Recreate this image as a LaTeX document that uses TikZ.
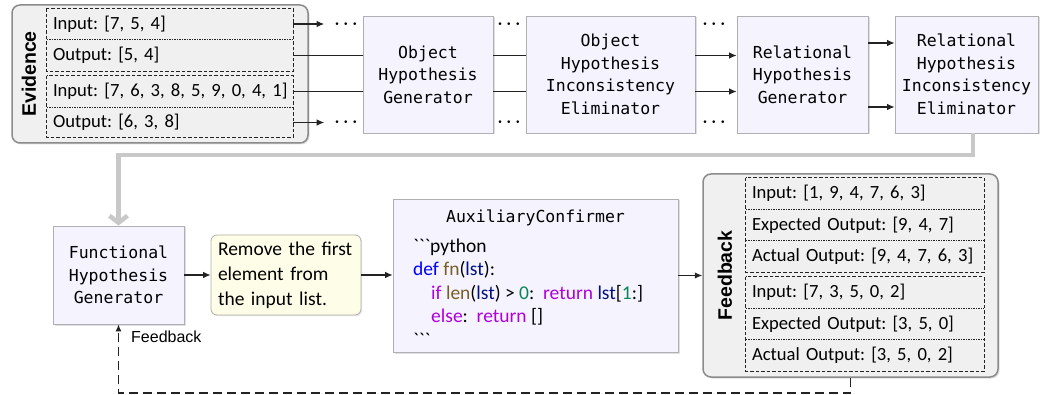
\documentclass[tikz,border=0pt]{standalone}
\usepackage{fontspec}
\setmainfont{Carlito}
\newfontfamily\monof{DejaVu Sans Mono}
\newfontfamily\arialf{Liberation Sans}
\usetikzlibrary{arrows.meta,shadows}
\AtBeginDocument{\frenchspacing}
\definecolor{procfill}{RGB}{244,243,254}
\definecolor{procdraw}{RGB}{175,175,180}
\definecolor{panelfill}{RGB}{240,240,240}
\definecolor{paneldraw}{RGB}{140,140,140}
\definecolor{yelfill}{RGB}{254,253,232}
\definecolor{yeldraw}{RGB}{175,175,165}
\definecolor{linec}{RGB}{35,35,35}
\definecolor{grayarr}{RGB}{200,200,200}
\definecolor{cdef}{RGB}{0,0,255}
\definecolor{cfn}{RGB}{121,94,38}
\definecolor{cvar}{RGB}{0,16,128}
\definecolor{cctrl}{RGB}{175,0,219}
\definecolor{cnum}{RGB}{9,134,88}
\tikzset{
 proc/.style={draw=procdraw, fill=procfill, line width=0.8pt, align=center,
   font=\monof\fontsize{16.5}{22.5}\selectfont, inner sep=0pt,
   drop shadow={shadow xshift=1.5pt,shadow yshift=-1.5pt,opacity=0.25}},
 panel/.style={draw=paneldraw, fill=panelfill, line width=1.5pt, rounded corners=8pt,
   drop shadow={shadow xshift=1.5pt,shadow yshift=-1.5pt,opacity=0.25}},
 yel/.style={draw=yeldraw, fill=yelfill, line width=0.8pt, rounded corners=6pt, align=left,
   inner xsep=7pt, inner ysep=0pt, font=\fontsize{19.5}{25}\selectfont,
   drop shadow={shadow xshift=1.2pt,shadow yshift=-1.2pt,opacity=0.2}},
 row/.style={inner xsep=6pt, inner ysep=0pt, align=left, minimum height=31pt,
   font=\fontsize{18.6}{23}\selectfont},
 grp/.style={draw=linec, line width=0.8pt, dash pattern=on 3.5pt off 2pt},
 sep/.style={draw=linec, line width=0.8pt, dash pattern=on 1.5pt off 1pt},
 conn/.style={draw=linec, line width=1.1pt},
 arr/.style={conn, -{Latex[length=7.5pt,width=6.5pt]}},
 dotsn/.style={inner xsep=10pt, inner ysep=0pt, font=\fontsize{19}{19}\selectfont\boldmath, anchor=base},
 sidelabel/.style={rotate=90, font=\arialf\bfseries\fontsize{19.5}{20}\selectfont},
 codeline/.style={anchor=base west, inner sep=0pt, font=\fontsize{19.5}{23}\selectfont},
}
\begin{document}
\begin{tikzpicture}[x=1pt,y=-1pt]
\useasboundingbox (0,0) rectangle (1043,395);
% panels
\node[panel, minimum width=296pt, minimum height=138pt] (ev) at (160,74) {};
\node[panel, minimum width=295pt, minimum height=203pt] (fb) at (850.5,275.5) {};
\node[sidelabel] (evl) at (29,74) {Evidence};
\node[sidelabel] (fbl) at (725,275.5) {Feedback};
% evidence rows
\node[row, text width=234pt] (r1) at (170,24) {\mbox{Input: [7, 5, 4]}};
\node[row, text width=234pt] (r2) at (170,55.5) {\mbox{Output: [5, 4]}};
\node[row, text width=234pt] (r3) at (170,91.5) {\mbox{Input: [7, 6, 3, 8, 5, 9, 0, 4, 1]}};
\node[row, text width=234pt, minimum height=30pt] (r4) at (170,122.5) {\mbox{Output: [6, 3, 8]}};
\draw[sep] (r1.south west) -- (r1.south east);
\draw[sep] (r3.south west) -- (r3.south east);
\draw[grp] (r1.north west) rectangle (r2.south east);
\draw[grp] (r3.north west) rectangle (r4.south east);
% feedback rows
\node[row, text width=226pt] (f1) at (865,193.5) {\mbox{Input: [1, 9, 4, 7, 6, 3]}};
\node[row, text width=226pt] (f2) at (865,225) {\mbox{Expected Output: [9, 4, 7]}};
\node[row, text width=226pt] (f3) at (865,256.5) {\mbox{Actual Output: [9, 4, 7, 6, 3]}};
\node[row, text width=226pt] (f4) at (865,292.5) {\mbox{Input: [7, 3, 5, 0, 2]}};
\node[row, text width=226pt] (f5) at (865,324) {\mbox{Expected Output: [3, 5, 0]}};
\node[row, text width=226pt] (f6) at (865,355.5) {\mbox{Actual Output: [3, 5, 0, 2]}};
\draw[sep] (f1.south west) -- (f1.south east);
\draw[sep] (f2.south west) -- (f2.south east);
\draw[sep] (f4.south west) -- (f4.south east);
\draw[sep] (f5.south west) -- (f5.south east);
\draw[grp] (f1.north west) rectangle (f3.south east);
\draw[grp] (f4.north west) rectangle (f6.south east);
% process boxes
\node[proc, minimum width=130pt, minimum height=117pt] (ohg) at (428,74.5) {Object\\Hypothesis\\Generator};
\node[proc, minimum width=169pt, minimum height=117pt] (ohie) at (610.5,74.5) {Object\\Hypothesis\\Inconsistency\\Eliminator};
\node[proc, minimum width=131pt, minimum height=117pt] (rhg) at (802.5,74.5) {Relational\\Hypothesis\\Generator};
\node[proc, minimum width=143pt, minimum height=117pt] (rhie) at (966.5,74.5) {Relational\\Hypothesis\\Inconsistency\\Eliminator};
\node[proc, minimum width=131pt, minimum height=98pt] (fhg) at (118.5,275) {Functional\\Hypothesis\\Generator};
\node[yel, minimum width=150pt, minimum height=80pt, text width=136pt] (yb) at (286,275) {Remove the first\\element from\\the input list.};
\node[proc, minimum width=285pt, minimum height=153pt] (aux) at (535.5,275.5) {};
\node[anchor=base, inner sep=0pt, font=\monof\fontsize{16.5}{20}\selectfont] (auxt) at (535.5,223) {AuxiliaryConfirmer};
\node[codeline] (c1) at (413,252) {\textasciigrave\textasciigrave\textasciigrave python};
\node[codeline] (c2) at (413,275) {{\color{cdef}def} {\color{cfn}fn}({\color{cvar}lst}):};
\node[codeline] (c3) at (431,299) {{\color{cctrl}if} {\color{cfn}len}({\color{cvar}lst}) > {\color{cnum}0}:\ \ {\color{cctrl}return} {\color{cvar}lst}[{\color{cnum}1}:]};
\node[codeline] (c4) at (431,322) {{\color{cctrl}else}:\ \ {\color{cctrl}return} []};
\node[codeline] (c5) at (413,346) {\textasciigrave\textasciigrave\textasciigrave};
% dots
\node[dotsn] (d1) at (346,28.5) {$\cdots$};
\node[dotsn] (d2) at (509,28.5) {$\cdots$};
\node[dotsn] (d3) at (714,28.5) {$\cdots$};
\node[dotsn] (d4) at (346,127) {$\cdots$};
\node[dotsn] (d5) at (509,127) {$\cdots$};
\node[dotsn] (d6) at (714,127) {$\cdots$};
% connectors top
\draw[arr] (r1.east) -- (r1.east -| d1.west);
\draw[arr] (r4.east) -- (r4.east -| d4.west);
\draw[conn] (r2.east) -- (r2.east -| ohg.west);
\draw[conn] (r3.east) -- (r3.east -| ohg.west);
\draw[conn] (ohg.east |- r2.east) -- (ohie.west |- r2.east);
\draw[conn] (ohg.east |- r3.east) -- (ohie.west |- r3.east);
\draw[arr] (ohie.east |- r2.east) -- (rhg.west |- r2.east);
\draw[arr] (ohie.east |- r3.east) -- (rhg.west |- r3.east);
\coordinate (a1) at ([yshift=31.5pt]rhg.east);
\coordinate (a2) at ([yshift=-32.5pt]rhg.east);
\draw[arr] (a1) -- (a1 -| rhie.west);
\draw[arr] (a2) -- (a2 -| rhie.west);
% gray return
\coordinate (g1) at (973,155);
\draw[grayarr, line width=4.5pt, -{Straight Barb[length=7pt,width=18pt]}] (rhie.south -| g1) -- (g1) -| (fhg.north);
% bottom connectors
\draw[arr] (fhg.east) -- (yb.west);
\draw[arr] (yb.east) -- (yb.east -| aux.west);
\draw[arr] (aux.east) -- (aux.east -| fb.west);
% feedback loop
\coordinate (fbc) at (118.5,393);
\draw[draw=linec, line width=1.1pt, dash pattern=on 9pt off 5pt, -{Latex[length=7pt,width=6pt]}] (fb.south) |- (fbc) -- (fhg.south);
\node[anchor=west, inner sep=0pt, font=\arialf\fontsize{16}{16}\selectfont] (fblab) at (131,337) {Feedback};
\end{tikzpicture}
\end{document}
